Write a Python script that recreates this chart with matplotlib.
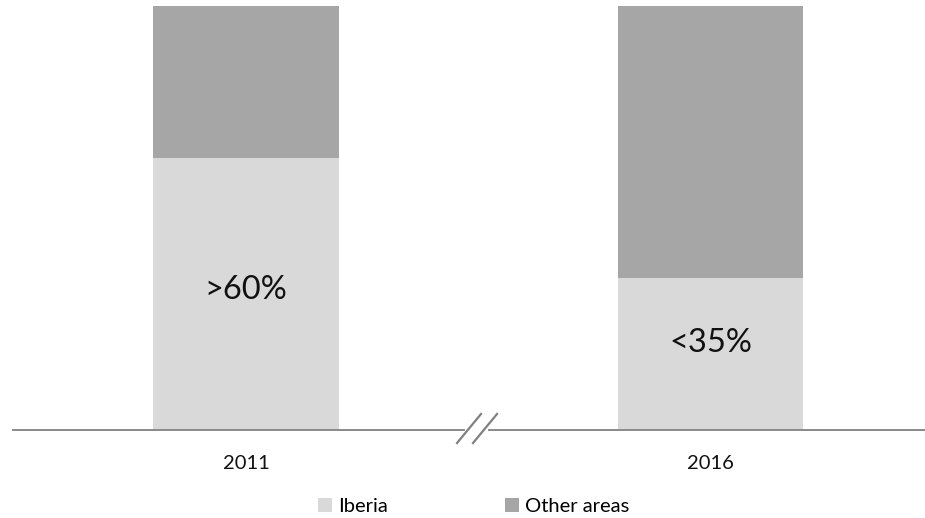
import numpy as np
import matplotlib.pyplot as plt
from matplotlib.patches import Patch

plt.rcParams['font.family'] = ['Lato', 'DejaVu Sans']

# data
years = ['2011', '2016']
iberia = [64.2, 35.9]
other = [35.8, 64.1]
labels = ['>60%', '<35%']
label_y = [33, 20.5]
series_names = ['Iberia', 'Other areas']
colors = ['#d9d9d9', '#a6a6a6']

fig = plt.figure(figsize=(9.25, 5.18), dpi=100)
# axes laid out so the baseline sits at y=430px and 100% at y=6px
ax = fig.add_axes([12.7 / 925, 88 / 518, 1 - 12.7 / 925, 424 / 518])

x = np.arange(len(years))
ax.bar(x, iberia, width=0.4, color=colors[0])
ax.bar(x, other, width=0.4, bottom=iberia, color=colors[1])

for xi, lab, ly in zip(x, labels, label_y):
    ax.text(xi, ly, lab, ha='center', va='center', fontsize=23.5, color='#111111')

ax.set_xlim(-0.5023, 1.4618)
ax.set_ylim(0, 100)
ax.set_xticks(x)
ax.set_xticklabels(years, fontsize=14.5)
ax.tick_params(axis='x', length=0, pad=18, colors='#111111')
ax.set_yticks([])
for s in ['top', 'right', 'left']:
    ax.spines[s].set_visible(False)
ax.spines['bottom'].set_color('#8a8a8a')
ax.spines['bottom'].set_linewidth(1.4)

# axis break mark
ax.plot([0.4758, 0.5167], [0, 0], color='white', lw=3, clip_on=False, zorder=5)
ax.plot([0.4543, 0.5059], [-3.07, 3.77], color='#808080', lw=1.6, clip_on=False, zorder=6)
ax.plot([0.4887, 0.5404], [-3.07, 3.77], color='#808080', lw=1.6, clip_on=False, zorder=6)

handles = [Patch(facecolor=c, edgecolor='none') for c in colors]
fig.legend(handles, series_names, loc='center', bbox_to_anchor=(0.512, 0.022),
           ncol=2, frameon=False, fontsize=14.5, handlelength=0.7, handleheight=0.7,
           handletextpad=0.3, columnspacing=5.8)

fig.savefig('out.png', dpi=100)
